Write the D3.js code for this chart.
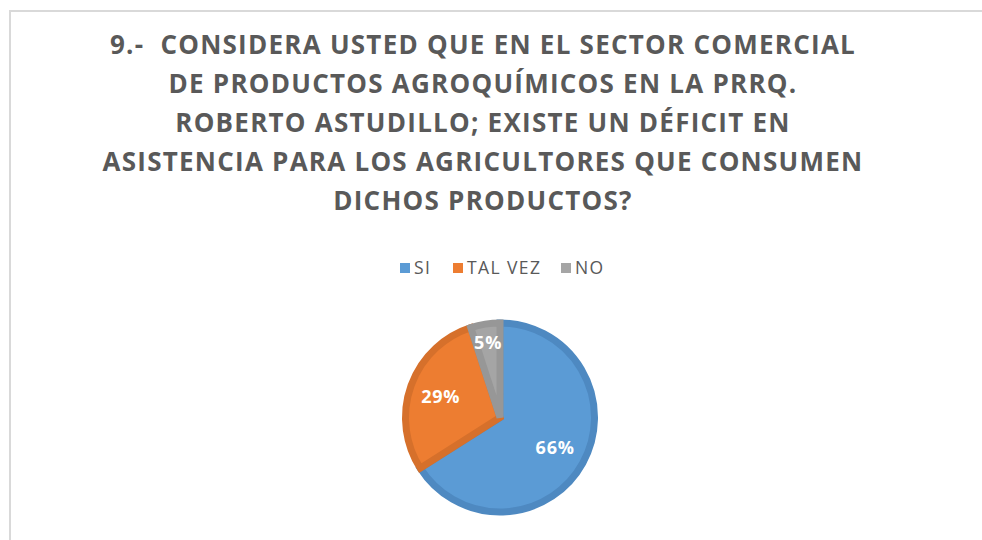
<!DOCTYPE html>
<html>
<head>
<meta charset="utf-8">
<script src="https://cdn.jsdelivr.net/npm/d3@7"></script>
<style>
  html, body { margin: 0; padding: 0; background: #fff; }
  svg { display: block; }
</style>
</head>
<body>
<svg id="chart" width="982" height="540"></svg>
<script>
const titleLines = [
  "9.-  CONSIDERA USTED QUE EN EL SECTOR COMERCIAL",
  "DE PRODUCTOS AGROQUÍMICOS EN LA PRRQ.",
  "ROBERTO ASTUDILLO; EXISTE UN DÉFICIT EN",
  "ASISTENCIA PARA LOS AGRICULTORES QUE CONSUMEN",
  "DICHOS PRODUCTOS?"
];
const categories = ["SI", "TAL VEZ", "NO"];
const values = [66, 29, 5];
const fillColors = ["#5B9BD5", "#ED7D31", "#A5A5A5"];
const strokeColors = ["#4E89C1", "#D6702B", "#979797"];

const svg = d3.select("#chart");

// frame
svg.append("path")
  .attr("d", "M10,540 V11 H982")
  .attr("fill", "none")
  .attr("stroke", "#d9d9d9")
  .attr("stroke-width", 2);

// title
const title = svg.append("text")
  .attr("text-anchor", "middle")
  .attr("font-family", "'Open Sans', sans-serif")
  .attr("font-weight", "bold")
  .attr("font-size", 26)
  .attr("letter-spacing", 1.25)
  .attr("fill", "#595959")
  .style("white-space", "pre");
titleLines.forEach((t, i) => {
  title.append("tspan")
    .attr("x", 483)
    .attr("y", 54 + i * 39)
    .text(t);
});

// legend
const legendX = d3.scaleOrdinal().domain(categories).range([400, 453, 561]);
const lg = svg.append("g").selectAll("g").data(categories).join("g")
  .attr("transform", d => `translate(${legendX(d)},268)`);
lg.append("rect")
  .attr("x", 0).attr("y", -5).attr("width", 10).attr("height", 10)
  .attr("fill", (d, i) => fillColors[i]);
lg.append("text")
  .attr("x", 14).attr("y", 6)
  .attr("font-family", "'Open Sans', sans-serif")
  .attr("font-size", 17.5)
  .attr("letter-spacing", 1.4)
  .attr("fill", "#595959")
  .text(d => d);

// pie
const cx = 500, cy = 417.5, R = 94.5;
const pie = d3.pie().sort(null).value(d => d);
const arcs = pie(values);
const arc = d3.arc().innerRadius(0).outerRadius(R);
const g = svg.append("g").attr("transform", `translate(${cx},${cy})`);
g.selectAll("path").data(arcs).join("path")
  .attr("d", arc)
  .attr("fill", (d, i) => fillColors[i])
  .attr("stroke", (d, i) => strokeColors[i])
  .attr("stroke-width", 7)
  .attr("stroke-linejoin", "miter");

const labelArc = d => {
  const r = (d.endAngle - d.startAngle) < 0.5 ? 76 : 63;
  return d3.arc().innerRadius(r).outerRadius(r).centroid(d);
};
g.selectAll("text.lbl").data(arcs).join("text")
  .attr("class", "lbl")
  .attr("x", d => labelArc(d)[0])
  .attr("y", d => labelArc(d)[1] + 6.5)
  .attr("text-anchor", "middle")
  .attr("font-family", "'Open Sans', sans-serif")
  .attr("font-weight", "bold")
  .attr("font-size", 18)
  .attr("letter-spacing", 0.8)
  .attr("fill", "#ffffff")
  .text(d => d.data + "%");
</script>
</body>
</html>
